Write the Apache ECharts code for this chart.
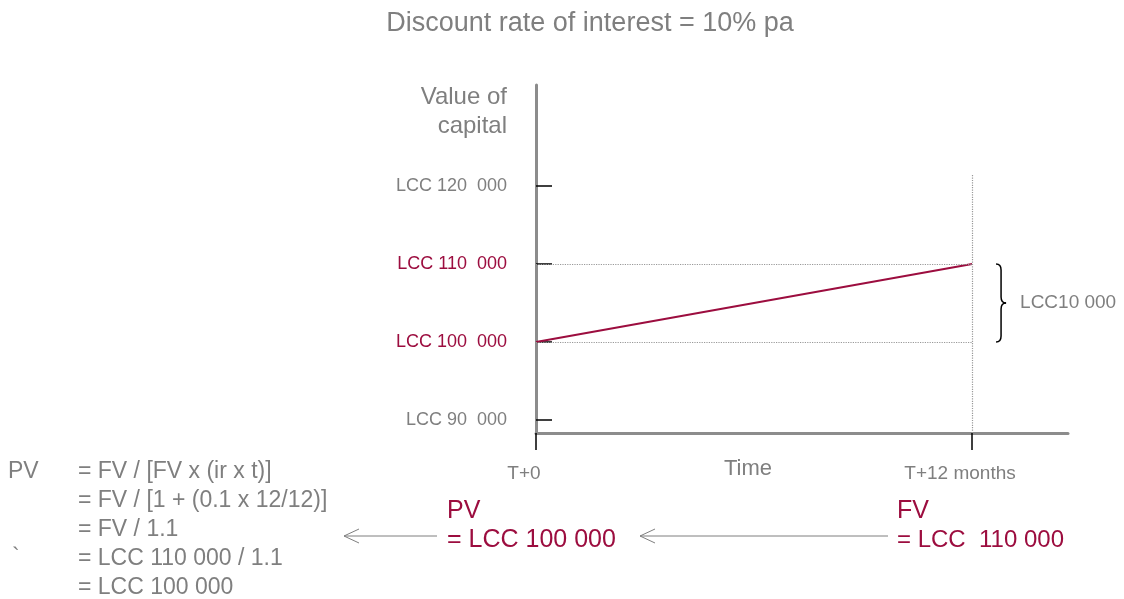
<!DOCTYPE html>
<html lang="en">

<head>
    <meta charset="UTF-8">
    <title>Discounting</title>
    <script src="https://cdn.jsdelivr.net/npm/echarts@6/dist/echarts.min.js"></script>
    <style>
        html, body { margin: 0; padding: 0; background: #fff; }
        #main { width: 1124px; height: 599px; }
    </style>
</head>

<body>
    <div id="main"></div>
    <script>
        // data
        const timePoints = [0, 12];
        const capitalValues = [100000, 110000];
        const yTickValues = [90000, 100000, 110000, 120000];
        const highlightedValues = [100000, 110000];
        const xTickValues = [0, 12];
        const xTickLabels = ['T+0', 'T+12 months'];
        const formulaLines = [
            '= FV / [FV x (ir x t)]',
            '= FV / [1 + (0.1 x 12/12)]',
            '= FV / 1.1',
            '= LCC 110 000 / 1.1',
            '= LCC 100 000'
        ];

        const GREY = '#7f7f7f';
        const RED = '#9c0d3f';
        const FONT = '"Liberation Sans", Arial, sans-serif';

        var chart = echarts.init(document.getElementById('main'));

        function fmtLcc(v) {
            return 'LCC ' + Math.floor(v / 1000) + '  ' + String(v % 1000).padStart(3, '0');
        }

        var option = {
            backgroundColor: '#fff',
            animation: false,
            grid: { left: 536, right: 56, top: 85, bottom: 166 },
            xAxis: {
                type: 'value',
                min: 0,
                max: 14.64,
                splitLine: { show: false },
                axisLine: { lineStyle: { color: '#8c8c8c', width: 3 } },
                axisTick: {
                    customValues: xTickValues,
                    length: 17,
                    lineStyle: { color: '#000', width: 1.5 }
                },
                axisLabel: {
                    customValues: xTickValues,
                    margin: 31,
                    padding: [0, 24, 0, 0],
                    fontSize: 19,
                    fontFamily: FONT,
                    color: GREY,
                    formatter: function (v) { return xTickLabels[xTickValues.indexOf(v)]; }
                }
            },
            yAxis: {
                type: 'value',
                min: 88330,
                max: 132950,
                splitLine: { show: false },
                axisLine: { lineStyle: { color: '#8c8c8c', width: 3 } },
                axisTick: {
                    customValues: yTickValues,
                    inside: true,
                    length: 16,
                    lineStyle: { color: '#000', width: 1.5 }
                },
                axisLabel: {
                    customValues: yTickValues,
                    margin: 29,
                    fontSize: 18,
                    fontFamily: FONT,
                    formatter: fmtLcc,
                    color: function (v) {
                        return highlightedValues.indexOf(Number(v)) >= 0 ? RED : GREY;
                    }
                }
            },
            series: [{
                type: 'line',
                data: timePoints.map(function (t, i) { return [t, capitalValues[i]]; }),
                showSymbol: false,
                lineStyle: { color: RED, width: 2 },
                markLine: {
                    silent: true,
                    symbol: 'none',
                    label: { show: false },
                    lineStyle: { color: '#999', type: 'dotted', width: 1.2 },
                    data: [
                        [{ coord: [0, capitalValues[1]] }, { coord: [timePoints[1], capitalValues[1]] }],
                        [{ coord: [0, capitalValues[0]] }, { coord: [timePoints[1], capitalValues[0]] }],
                        [{ coord: [timePoints[1], 121400] }, { coord: [timePoints[1], 88330] }]
                    ]
                }
            }]
        };
        chart.setOption(option);

        // annotations (brace placed from the axis scales)
        var hiPt = chart.convertToPixel({ seriesIndex: 0 }, [timePoints[1], capitalValues[1]]);
        var loPt = chart.convertToPixel({ seriesIndex: 0 }, [timePoints[1], capitalValues[0]]);
        var bx = hiPt[0] + 24, ty = hiPt[1], by = loPt[1], my = (ty + by) / 2;
        var braceStyle = { stroke: '#000', lineWidth: 1.5, fill: null };
        function curve(x1, y1, cx, cy, x2, y2) {
            return { type: 'bezierCurve', shape: { x1: x1, y1: y1, cpx1: cx, cpy1: cy, x2: x2, y2: y2 }, style: braceStyle };
        }
        function seg(x1, y1, x2, y2, style) {
            return { type: 'line', shape: { x1: x1, y1: y1, x2: x2, y2: y2 }, style: style };
        }
        var brace = [
            curve(bx, ty, bx + 5, ty, bx + 5, ty + 6),
            seg(bx + 5, ty + 6, bx + 5, my - 6, braceStyle),
            curve(bx + 5, my - 6, bx + 5, my, bx + 10, my),
            curve(bx + 10, my, bx + 5, my, bx + 5, my + 6),
            seg(bx + 5, my + 6, bx + 5, by - 6, braceStyle),
            curve(bx + 5, by - 6, bx + 5, by, bx, by)
        ];

        function txt(x, y, s, size, color, align) {
            return {
                type: 'text', x: x, y: y,
                style: {
                    text: s, fill: color, font: size + 'px ' + FONT,
                    textAlign: align || 'left', textVerticalAlign: 'middle'
                }
            };
        }
        function arrow(x1, x2, y) {
            var st = { stroke: GREY, lineWidth: 1 };
            return [
                seg(x1, y, x2, y, st),
                { type: 'polyline', shape: { points: [[x1 + 15, y - 7], [x1, y], [x1 + 15, y + 7]] }, style: { stroke: GREY, lineWidth: 1, fill: null } }
            ];
        }

        var g = [
            txt(590, 24, 'Discount rate of interest = 10% pa', 27, GREY, 'center'),
            txt(507, 97, 'Value of', 24, GREY, 'right'),
            txt(507, 126, 'capital', 24, GREY, 'right'),
            txt(748, 469, 'Time', 22, GREY, 'center'),
            txt(bx + 24, my, 'LCC10 000', 19, GREY, 'left'),
            txt(447, 511, 'PV', 25, RED),
            txt(447, 540, '= LCC 100 000', 25, RED),
            txt(897, 511, 'FV', 25, RED),
            txt(897, 540, '= LCC  110 000', 24, RED),
            txt(8, 472, 'PV', 23, GREY),
            txt(12, 558, '`', 23, GREY)
        ];
        formulaLines.forEach(function (s, i) {
            g.push(txt(78, 472 + i * 29, s, 23, GREY));
        });
        g = g.concat(brace, arrow(640, 888, 536), arrow(344, 437, 536));

        chart.setOption({ graphic: { elements: g } });
    </script>
</body>

</html>
